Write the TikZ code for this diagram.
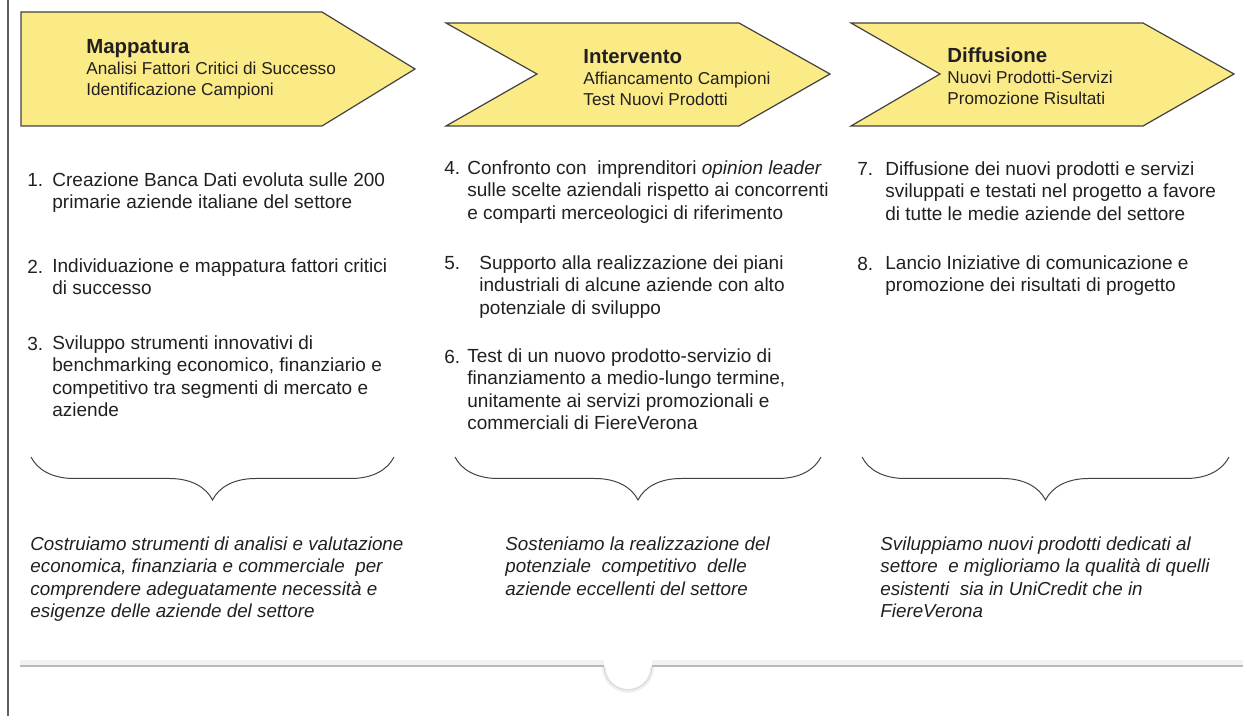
\documentclass[tikz,border=0pt]{standalone}
\usepackage{fontspec}
\setmainfont{Liberation Sans}
\usetikzlibrary{decorations.pathreplacing}
\definecolor{chevron}{HTML}{FAEB87}
\definecolor{inkgray}{HTML}{231F20}
\newcommand\phasetitle[1]{{\fontsize{10.2}{10.5}\selectfont\bfseries #1}}

\begin{document}
\begin{tikzpicture}[x=0.5pt,y=-0.5pt,
  phase/.style={draw=inkgray!85,fill=chevron,line width=0.6pt,line join=miter},
  phasetext/.style={anchor=north west,inner sep=0pt,align=left,text=inkgray,font=\fontsize{8.6}{10.5}\selectfont},
  itemtext/.style={anchor=north west,inner sep=0pt,align=left,text=inkgray,font=\fontsize{9.5}{11.25}\selectfont},
  itemnum/.style={itemtext,yshift=-0.7pt},
  summary/.style={itemtext,font=\fontsize{9.4}{11.25}\selectfont\itshape},
  bracket/.style={draw=inkgray!85,line width=0.5pt,decorate,decoration={brace,amplitude=21.5pt}}]
  \useasboundingbox (0,0) rectangle (1243,716);

  % frame and bottom rule
  \draw[gray!75!black,line width=0.7pt] (8,0) -- (8,716);
  \draw[gray!10,line width=2.5pt] (20,662) -- (604,662) (652,662) -- (1243,662);
  \draw[gray!55,line width=1pt] (20,666) -- (604,666) (652,666) -- (1243,666);
  \draw[gray!12,line width=2pt] (604,667) arc[start angle=180,end angle=360,radius=12pt];
  \draw[gray!30,line width=0.5pt] (604,666) arc[start angle=180,end angle=360,radius=12pt];

  % the three phases
  \draw[phase] (21,12) -- (322,12) -- (415,69) -- (322,126) -- (21,126) -- cycle;
  \draw[phase] (446,23) -- (739,23) -- (830,74) -- (739,126) -- (446,126) -- (537,74) -- cycle;
  \draw[phase] (851,23) -- (1143,23) -- (1234,74) -- (1143,126) -- (851,126) -- (940,74) -- cycle;

  \node[phasetext] (map) at (86,39) {\phasetitle{Mappatura}\\Analisi Fattori Critici di Successo\\Identificazione Campioni};
  \node[phasetext] (int) at (583,49) {\phasetitle{Intervento}\\Affiancamento Campioni\\Test Nuovi Prodotti};
  \node[phasetext] (dif) at (947,47) {\phasetitle{Diffusione}\\Nuovi Prodotti-Servizi\\Promozione Risultati};

  % actions
  \node[itemnum] (n1) at (27,172) {1.};
  \node[itemtext] (i1) at (52,172) {Creazione Banca Dati evoluta sulle 200\\primarie aziende italiane del settore};
  \node[itemnum] (n2) at (27,258) {2.};
  \node[itemtext] (i2) at (52,258) {Individuazione e mappatura fattori critici\\di successo};
  \node[itemnum] (n3) at (27,335) {3.};
  \node[itemtext] (i3) at (52,335) {Sviluppo strumenti innovativi di\\benchmarking economico, finanziario e\\competitivo tra segmenti di mercato e\\aziende};

  \node[itemnum] (n4) at (444,160) {4.};
  \node[itemtext] (i4) at (467,160) {Confronto con\ \ imprenditori \textit{opinion leader}\\sulle scelte aziendali rispetto ai concorrenti\\e comparti merceologici di riferimento};
  \node[itemnum] (n5) at (444,255) {5.};
  \node[itemtext] (i5) at (479,255) {Supporto alla realizzazione dei piani\\industriali di alcune aziende con alto\\potenziale di sviluppo};
  \node[itemnum] (n6) at (444,348) {6.};
  \node[itemtext] (i6) at (467,348) {Test di un nuovo prodotto-servizio di\\finanziamento a medio-lungo termine,\\unitamente ai servizi promozionali e\\commerciali di FiereVerona};

  \node[itemnum] (n7) at (857,161) {7.};
  \node[itemtext] (i7) at (885,161) {Diffusione dei nuovi prodotti e servizi\\sviluppati e testati nel progetto a favore\\di tutte le medie aziende del settore};
  \node[itemnum] (n8) at (857,255) {8.};
  \node[itemtext] (i8) at (885,255) {Lancio Iniziative di comunicazione e\\promozione dei risultati di progetto};

  % braces
  \coordinate (b1l) at (31,457);  \coordinate (b1r) at (394,457);
  \coordinate (b2l) at (455,457); \coordinate (b2r) at (821,457);
  \coordinate (b3l) at (862,457); \coordinate (b3r) at (1229,457);
  \draw[bracket] (b1r) -- (b1l);
  \draw[bracket] (b2r) -- (b2l);
  \draw[bracket] (b3r) -- (b3l);

  % summaries
  \node[summary] (s1) at (30,536) {Costruiamo strumenti di analisi e valutazione\\economica, finanziaria e commerciale\ \ per\\comprendere adeguatamente necessità e\\esigenze delle aziende del settore};
  \node[summary] (s2) at (505,536) {Sosteniamo la realizzazione del\\potenziale\ \ competitivo\ \ delle\\aziende eccellenti del settore};
  \node[summary] (s3) at (880,536) {Sviluppiamo nuovi prodotti dedicati al\\settore\ \ e miglioriamo la qualità di quelli\\esistenti\ \ sia in UniCredit che in\\FiereVerona};
\end{tikzpicture}
\end{document}
